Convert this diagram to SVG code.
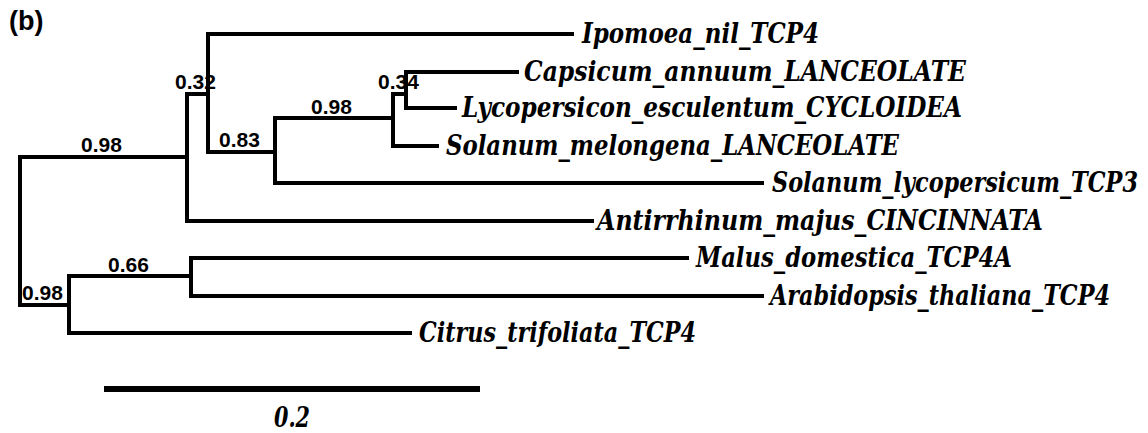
<svg xmlns="http://www.w3.org/2000/svg" width="1148" height="433" viewBox="0 0 1148 433">
<style>
.e{fill:none;stroke:#000;stroke-width:4;stroke-linecap:square}
.t{font-style:italic;font-weight:bold;font-size:27px;fill:#000}
.s{font-weight:bold;font-size:21px;fill:#000}
</style>
<rect width="1148" height="433" fill="#fff"/>
<text x="9" y="30" font-family="Liberation Sans, Arial, sans-serif" font-weight="bold" font-size="27">(b)</text>
<g id="connectors">
<path class="e" d="M20,157V305M20,157H187M187,94V221M187,94H208M208,34V152M208,34H572M208,152H275M275,118V183M275,118H393M393,94V146M393,94H406M406,72V108M406,72H517M406,108H455M393,146H437M275,183H762M187,221H592M20,305H69M69,276V333M69,276H191M191,258V296M191,258H687M191,296H762M69,333H410"/>
</g>
<g id="support" font-family="Liberation Sans, Arial, sans-serif">
<text class="s" x="81" y="152">0.98</text>
<text class="s" x="175" y="89">0.32</text>
<text class="s" x="219" y="147">0.83</text>
<text class="s" x="311" y="114">0.98</text>
<text class="s" x="378" y="89">0.34</text>
<text class="s" x="108" y="272">0.66</text>
<text class="s" x="22" y="300">0.98</text>
</g>
<g id="leaf-ipomoea"><text class="t" font-family="DejaVu Serif" x="582" y="43" textLength="237" lengthAdjust="spacingAndGlyphs">Ipomoea_nil_TCP4</text></g>
<g id="leaf-capsicum"><text class="t" font-family="DejaVu Serif" x="524" y="81" textLength="442" lengthAdjust="spacingAndGlyphs">Capsicum_annuum_LANCEOLATE</text></g>
<g id="leaf-lycopersicon"><text class="t" font-family="DejaVu Serif" x="462" y="117" textLength="500" lengthAdjust="spacingAndGlyphs">Lycopersicon_esculentum_CYCLOIDEA</text></g>
<g id="leaf-melongena"><text class="t" font-family="DejaVu Serif" x="446" y="155" textLength="453" lengthAdjust="spacingAndGlyphs">Solanum_melongena_LANCEOLATE</text></g>
<g id="leaf-sollyc"><text class="t" font-family="DejaVu Serif" x="772" y="192" textLength="366" lengthAdjust="spacingAndGlyphs">Solanum_lycopersicum_TCP3</text></g>
<g id="leaf-antirrhinum"><text class="t" font-family="DejaVu Serif" x="597" y="230" textLength="446" lengthAdjust="spacingAndGlyphs">Antirrhinum_majus_CINCINNATA</text></g>
<g id="leaf-malus"><text class="t" font-family="DejaVu Serif" x="696" y="267" textLength="316" lengthAdjust="spacingAndGlyphs">Malus_domestica_TCP4A</text></g>
<g id="leaf-arabidopsis"><text class="t" font-family="DejaVu Serif" x="770" y="305" textLength="340" lengthAdjust="spacingAndGlyphs">Arabidopsis_thaliana_TCP4</text></g>
<g id="leaf-citrus"><text class="t" font-family="DejaVu Serif" x="419" y="342" textLength="277" lengthAdjust="spacingAndGlyphs">Citrus_trifoliata_TCP4</text></g>
<g id="scale">
<line x1="104" y1="389" x2="480" y2="389" stroke="#000" stroke-width="6"/>
<text class="t" font-family="DejaVu Serif" x="274" y="427" textLength="36" lengthAdjust="spacingAndGlyphs">0.2</text>
</g>
</svg>
